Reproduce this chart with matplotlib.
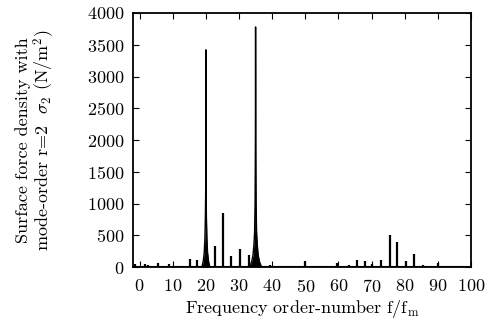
import numpy as np
import matplotlib
matplotlib.use('Agg')
import matplotlib.pyplot as plt

# Computer Modern look
plt.rcParams['font.family'] = 'serif'
plt.rcParams['font.serif'] = ['cmr10']
plt.rcParams['mathtext.fontset'] = 'cm'
plt.rcParams['axes.unicode_minus'] = False
plt.rcParams['axes.formatter.use_mathtext'] = True
plt.rcParams['font.size'] = 13

# spectral lines: order-number and amplitude (N/m^2)
line_freq = [-1.3, 1.5, 2.5, 5.4, 8.8, 15.2, 17.2, 22.8, 25.1, 27.6, 30.2, 32.9,
             39.5, 49.9, 59.7, 63.2, 65.7, 67.9, 70.2, 73.0, 75.6, 77.8, 80.3,
             82.8, 85.4, 90.1]
line_amp = [45, 55, 25, 70, 50, 130, 110, 330, 850, 175, 285, 190,
            40, 95, 60, 35, 110, 100, 50, 110, 500, 400, 90,
            205, 25, 70]

# the two dominant peaks with their leakage skirts
skirt20_f = [18.8, 19.2, 19.5, 19.7, 19.85, 19.95, 20.0, 20.05, 20.15, 20.3, 20.5, 20.8, 21.2]
skirt20_a = [0, 90, 230, 450, 800, 1250, 3420, 1250, 800, 450, 230, 90, 0]
skirt35_f = [33.2, 33.8, 34.2, 34.5, 34.7, 34.85, 34.95, 35.0, 35.05, 35.15, 35.3, 35.5, 35.8, 36.2, 36.8]
skirt35_a = [0, 80, 180, 350, 550, 1000, 2000, 3780, 2000, 1000, 550, 350, 180, 80, 0]

fig = plt.figure(figsize=(4.89, 3.33), dpi=100)
ax = fig.add_axes([0.272, 0.198, 0.691, 0.763])

ax.vlines(line_freq, 0, line_amp, color='k', lw=1.6)
for f, a in [(skirt20_f, skirt20_a), (skirt35_f, skirt35_a)]:
    ax.fill_between(f, 0, a, color='k', lw=0)
    ax.plot(f, a, color='k', lw=1.0)
ax.axhline(8, color='k', lw=1.5)

ax.set_xlim(-2, 100)
ax.set_ylim(0, 4000)
ax.set_xticks(range(0, 101, 10))
ax.set_yticks(range(0, 4001, 500))
ax.tick_params(direction='in', top=True, right=True, length=4, width=0.8)
ax.tick_params(axis='x', pad=8)
ax.tick_params(axis='y', pad=6)
for s in ax.spines.values():
    s.set_linewidth(1.3)

ax.set_xlabel(r'Frequency order-number $\mathrm{f/f_m}$', labelpad=2)
ax.set_ylabel('Surface force density with\n' + r'mode-order r=2  $\sigma_2$ (N/m$^2$)',
              linespacing=1.0, labelpad=22)

plt.savefig('out.png', dpi=100)
